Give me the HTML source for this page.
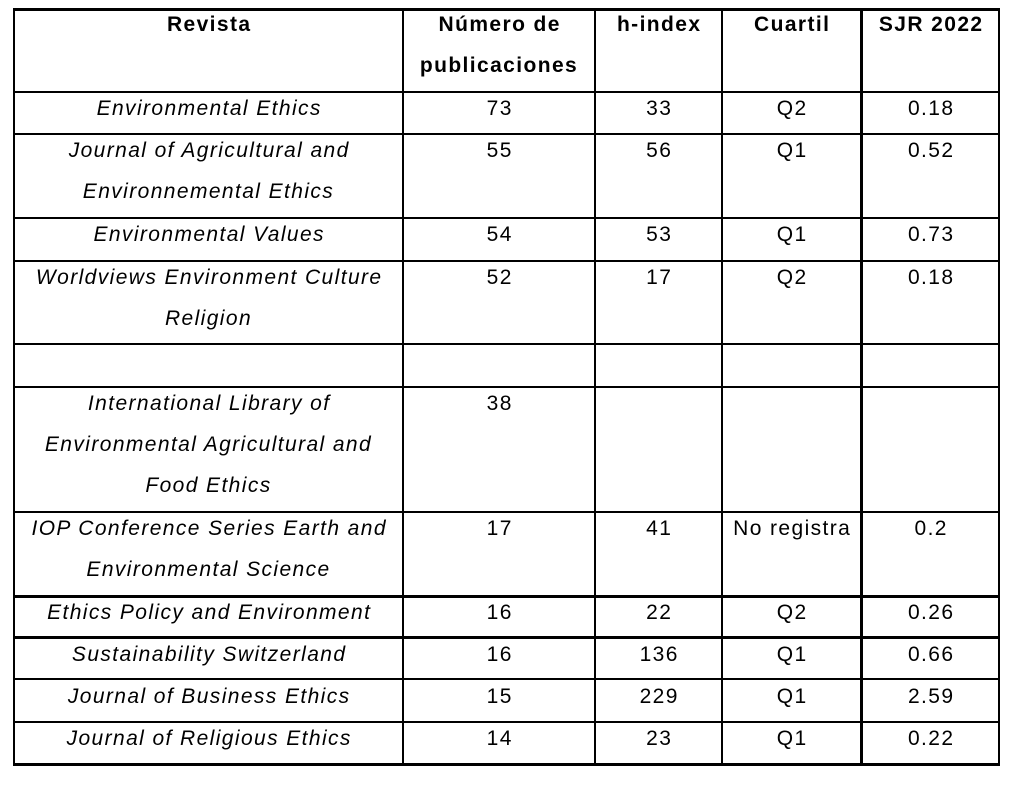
<!DOCTYPE html>
<html><head><meta charset="utf-8"><style>
body{margin:0;width:1031px;height:801px;background:#fff;position:relative;overflow:hidden;font-family:"Liberation Sans",Arial,sans-serif;font-size:21px;color:#000}
.h{position:absolute;background:#000;height:2px;left:13px;width:987px}
.v{position:absolute;background:#000;width:2px;top:9px;height:757px}
.c{position:absolute;text-align:center;line-height:41px;letter-spacing:1.4px;white-space:nowrap;text-indent:1.4px}
.i{font-style:italic}
.b{font-weight:bold}
</style></head><body>
<div class="h" style="top:8px;height:3px"></div>
<div class="h" style="top:91px"></div>
<div class="h" style="top:133px"></div>
<div class="h" style="top:217px"></div>
<div class="h" style="top:260px"></div>
<div class="h" style="top:343px"></div>
<div class="h" style="top:386px"></div>
<div class="h" style="top:511px"></div>
<div class="h" style="top:595px;height:3px"></div>
<div class="h" style="top:636px;height:3px"></div>
<div class="h" style="top:678px"></div>
<div class="h" style="top:721px"></div>
<div class="h" style="top:763px;height:3px"></div>
<div class="v" style="left:13px"></div>
<div class="v" style="left:402px"></div>
<div class="v" style="left:594px"></div>
<div class="v" style="left:721px"></div>
<div class="v" style="left:860px;width:3px"></div>
<div class="v" style="left:998px"></div>

<div id="t"></div>
<script>
const cols=[[15,402],[404,594],[596,721],[723,860],[863,998]];
const rows=[
[8,[['b','Revista'],['b','Número de<br>publicaciones'],['b','h-index'],['b','Cuartil'],['b','SJR 2022']]],
[92,[['i','Environmental Ethics'],'73','33','Q2','0.18']],
[134,[['i','Journal of Agricultural and<br>Environnemental Ethics'],'55','56','Q1','0.52']],
[218,[['i','Environmental Values'],'54','53','Q1','0.73']],
[261,[['i','Worldviews Environment Culture<br>Religion'],'52','17','Q2','0.18']],
[387,[['i','International Library of<br>Environmental Agricultural and<br>Food Ethics'],'38','','','']],
[512,[['i','IOP Conference Series Earth and<br>Environmental Science'],'17','41','No registra','0.2']],
[596,[['i','Ethics Policy and Environment'],'16','22','Q2','0.26']],
[638,[['i','Sustainability Switzerland'],'16','136','Q1','0.66']],
[680,[['i','Journal of Business Ethics'],'15','229','Q1','2.59']],
[722,[['i','Journal of Religious Ethics'],'14','23','Q1','0.22']]];
let h='';
rows.forEach(([y,cells])=>cells.forEach((c,i)=>{const [cl,tx]=Array.isArray(c)?c:['',c];
h+=`<div class="c ${cl}" style="left:${cols[i][0]}px;width:${cols[i][1]-cols[i][0]}px;top:${y-4}px">${tx}</div>`;}));
document.getElementById('t').innerHTML=h;
</script>
</body></html>
